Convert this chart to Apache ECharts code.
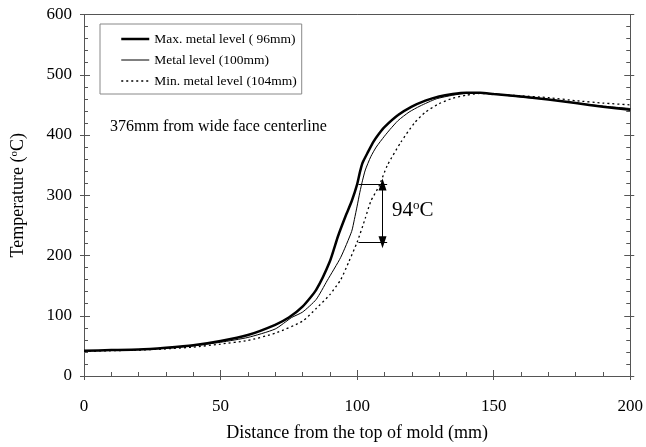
<!DOCTYPE html>
<html>
<head>
<meta charset="utf-8">
<script src="https://cdn.jsdelivr.net/npm/echarts@6/dist/echarts.min.js"></script>
<style>html,body{margin:0;padding:0;background:#fff}#c{width:646px;height:447px}</style>
</head>
<body>
<div id="c"></div>
<script>
// Data (distance mm, temperature °C)
const seriesNames = ['Max. metal level ( 96mm)', 'Metal level (100mm)', 'Min. metal level (104mm)'];
const maxLevel = [[0,42],[10,43],[20,44],[30,47],[40,51],[50,58],[60,68],[70,85],[75,97],[80,115],[85,143],[90,190],[93,232],[96,268],[98,290],[100,318],[101,338],[102,354],[104,372],[106,389],[108,402],[110,413],[115,433],[120,447],[125,457],[130,464],[135,468],[140,470],[145,470],[150,468],[160,464],[170,459],[180,453],[190,447],[200,442]];
const metalLevel = [[0,42],[10,42.5],[20,44],[30,46],[40,50],[50,56],[60,64],[70,78],[76,97],[80,106],[85,127],[89,158],[94,197],[98,240],[99,260],[100,282],[101,305],[102,325],[103,342],[105,364],[107,380],[110,398],[112,409],[115,424],[119,438],[123,448],[129,460],[135,466],[140,469],[145,469],[150,468],[160,463],[170,459],[180,453],[190,448],[200,444]];
const minLevel = [[0,41],[10,42],[20,43],[30,45],[40,48],[50,53],[60,59],[70,71],[80,91],[85,112],[90,135],[94,160],[97,190],[100,222],[103,262],[105,290],[108,315],[111,349],[116,388],[121,420],[125,438],[130,452],[135,461],[140,466],[145,469],[150,468],[160,465],[170,462],[180,457],[190,453],[200,450]];
const xTicks = [0, 200, 50];   // min, max, interval
const yTicks = [0, 600, 100];
// 94 °C annotation: upper and lower reference lines and the arrow
const annoTop = [[100.5, 318], [111, 318]];
const annoBottom = [[100.5, 222], [111, 222]];
const annoArrow = [[109.3, 318], [109.3, 222]];

const FONT = 'Liberation Serif';
const AX = '#555';
const lineWidths = [2.5, 1, 1.3];
const chart = echarts.init(document.getElementById('c'), null, {renderer: 'canvas'});

function baseX(extra) {
  return Object.assign({
    type: 'value', min: xTicks[0], max: xTicks[1], interval: xTicks[2],
    splitLine: {show: false}, axisLabel: {show: false}, axisTick: {show: false},
    axisLine: {show: false, onZero: false}
  }, extra);
}
function baseY(extra) {
  return Object.assign({
    type: 'value', min: yTicks[0], max: yTicks[1], interval: yTicks[2],
    splitLine: {show: false}, axisLabel: {show: false}, axisTick: {show: false},
    axisLine: {show: false, onZero: false}
  }, extra);
}
const lineOn = {show: true, onZero: false, lineStyle: {color: AX, width: 1}};

chart.setOption({
  animation: false,
  backgroundColor: '#fff',
  grid: {left: 84, right: 15, top: 14.5, bottom: 68.5, containLabel: false},
  legend: {
    orient: 'vertical', left: 100, top: 24,
    data: seriesNames.map((n, i) => ({name: n, lineStyle: {width: lineWidths[i]}})),
    itemWidth: 28, itemHeight: 12, itemGap: 7,
    borderColor: '#888', borderWidth: 1,
    padding: [8, 5, 6, 20],
    itemStyle: {color: 'rgba(0,0,0,0)', borderWidth: 0, opacity: 0},
    textStyle: {fontFamily: FONT, fontSize: 13.5, color: '#000'}
  },
  xAxis: [
    baseX({
      position: 'bottom',
      name: 'Distance from the top of mold (mm)', nameLocation: 'middle', nameGap: 48,
      nameTextStyle: {fontFamily: FONT, fontSize: 18, color: '#000'},
      axisLine: lineOn,
      axisTick: {show: true, inside: true, length: 6, lineStyle: {color: AX}},
      minorTick: {show: true, splitNumber: 5, length: 4, lineStyle: {color: AX}},
      axisLabel: {show: true, margin: 22, fontFamily: FONT, fontSize: 17, color: '#000'}
    }),
    baseX({position: 'bottom', axisTick: {show: true, inside: false, length: 4, lineStyle: {color: AX}}}),
    baseX({position: 'top', axisLine: lineOn})
  ],
  yAxis: [
    baseY({
      position: 'left',
      name: '{a|Temperature (}{s|o}{a|C)}', nameLocation: 'middle', nameGap: 56,
      nameTextStyle: {
        rich: {
          a: {fontFamily: FONT, fontSize: 18, color: '#000'},
          s: {fontFamily: FONT, fontSize: 11, color: '#000', verticalAlign: 'top', padding: [0, 0, 8, 0]}
        }
      },
      axisLine: lineOn,
      axisTick: {show: true, inside: true, length: 6, lineStyle: {color: AX}},
      minorTick: {show: true, splitNumber: 5, length: 4, lineStyle: {color: AX}},
      axisLabel: {show: true, margin: 12, fontFamily: FONT, fontSize: 17, color: '#000'}
    }),
    baseY({position: 'left', axisTick: {show: true, inside: false, length: 4, lineStyle: {color: AX}}}),
    baseY({
      position: 'right',
      axisLine: lineOn,
      axisTick: {show: true, inside: true, length: 6, lineStyle: {color: AX}},
      minorTick: {show: true, splitNumber: 5, length: 4, lineStyle: {color: AX}}
    }),
    baseY({position: 'right', axisTick: {show: true, inside: false, length: 4, lineStyle: {color: AX}}})
  ],
  series: [
    {
      name: seriesNames[0], type: 'line', data: maxLevel, showSymbol: false, symbol: 'none',
      smooth: 0.2, lineStyle: {color: '#000', width: lineWidths[0]}, itemStyle: {color: '#000'}, z: 5
    },
    {
      name: seriesNames[1], type: 'line', data: metalLevel, showSymbol: false, symbol: 'none',
      smooth: 0.2, lineStyle: {color: '#000', width: lineWidths[1]}, itemStyle: {color: '#000'}, z: 4
    },
    {
      name: seriesNames[2], type: 'line', data: minLevel, showSymbol: false, symbol: 'none',
      smooth: 0.2, lineStyle: {color: '#000', width: lineWidths[2], type: [2, 3]}, itemStyle: {color: '#000'}, z: 3
    },
    {
      type: 'line', data: [], silent: true,
      markLine: {
        silent: true, animation: false,
        label: {show: false},
        lineStyle: {color: '#000', width: 1, type: 'solid'},
        symbol: 'none',
        data: [
          [{coord: annoTop[0]}, {coord: annoTop[1]}],
          [{coord: annoBottom[0]}, {coord: annoBottom[1]}],
          [{coord: annoArrow[0], symbol: 'triangle', symbolSize: [8, 12], symbolRotate: 0},
           {coord: annoArrow[1], symbol: 'triangle', symbolSize: [8, 12], symbolRotate: 180}]
        ]
      }
    }
  ],
  graphic: [
    {
      type: 'text', left: 110, top: 119,
      style: {text: '376mm from wide face centerline', font: '16px "Liberation Serif"', fill: '#000'}
    },
    {
      type: 'text', left: 392, top: 199,
      style: {
        text: '{a|94}{s|o}{a|C}',
        rich: {
          a: {fontFamily: FONT, fontSize: 21, fill: '#000'},
          s: {fontFamily: FONT, fontSize: 13, fill: '#000', verticalAlign: 'top', padding: [0, 0, 9, 0]}
        }
      }
    }
  ]
});
</script>
</body>
</html>
